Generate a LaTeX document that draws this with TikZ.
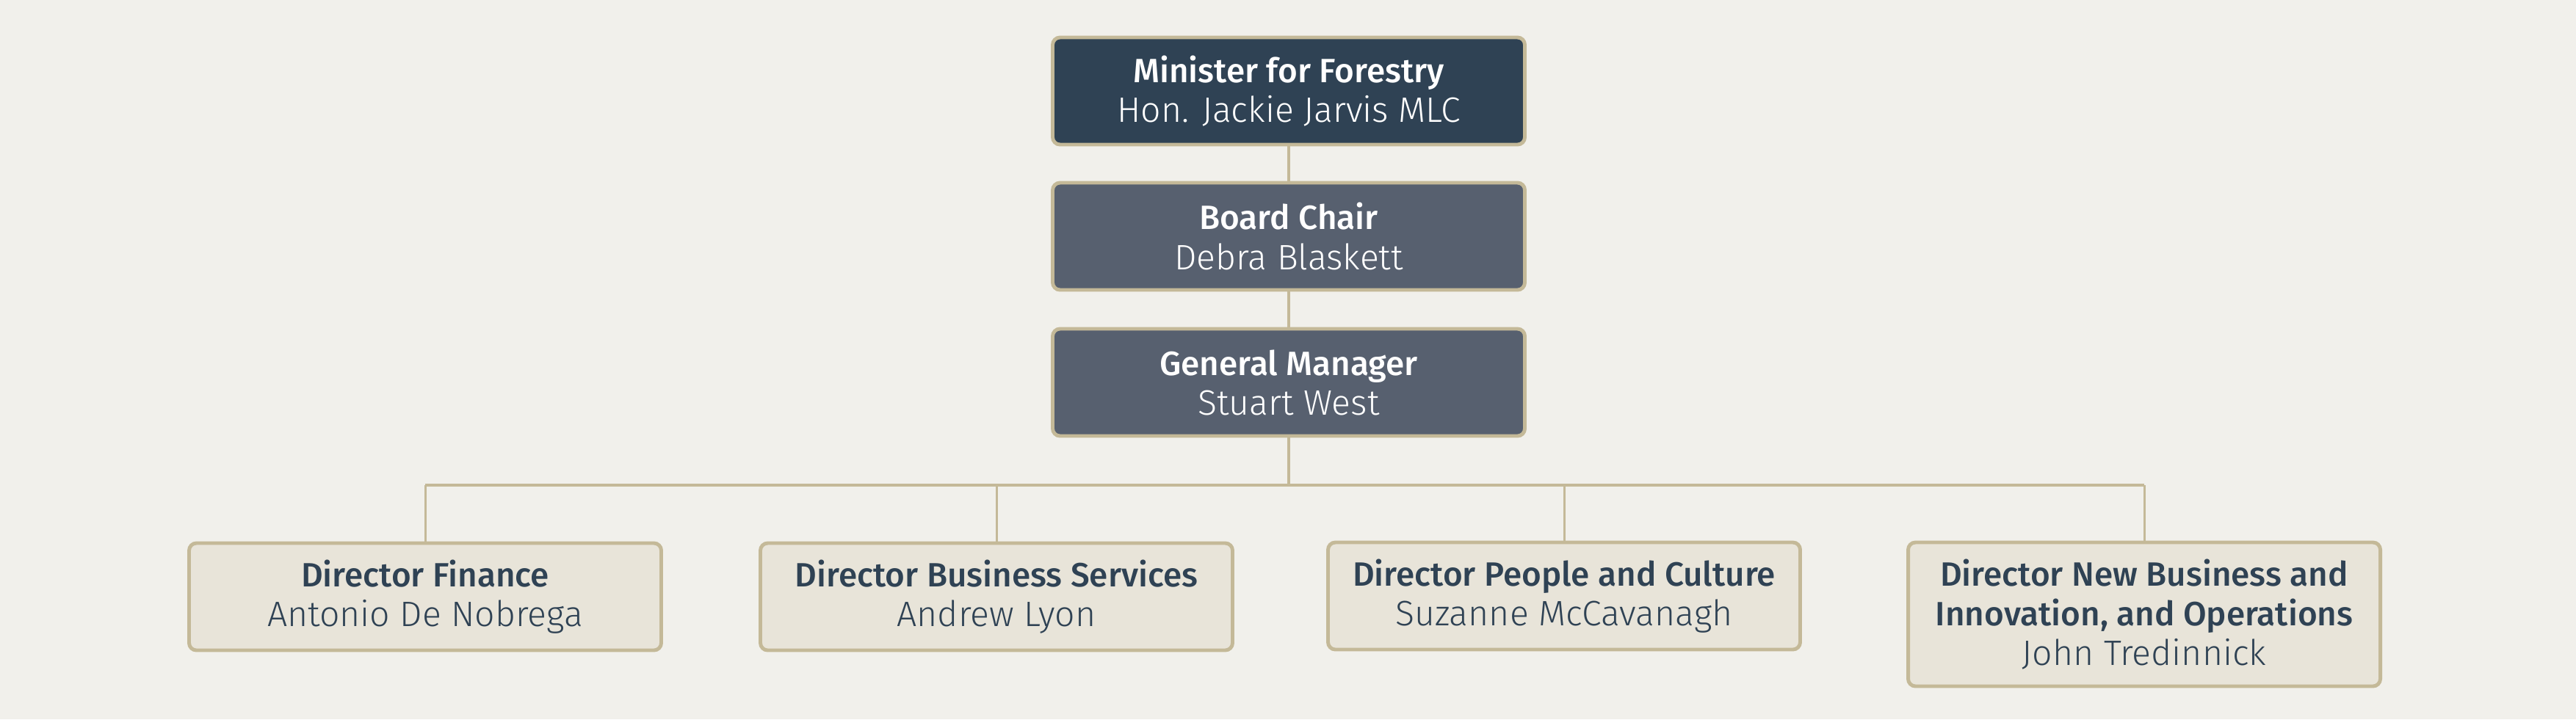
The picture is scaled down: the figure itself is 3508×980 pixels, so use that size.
\documentclass[tikz,border=0pt]{standalone}
\usepackage{fontspec}
\setmainfont{Fira Sans}
\newfontfamily\titlefont{Fira Sans Medium}[Scale=1.02]
\newfontfamily\namefont{Fira Sans Light}[Scale=1.07]
\usetikzlibrary{positioning}

\definecolor{paper}{HTML}{F1F0EB}
\definecolor{tan}{HTML}{C4B998}
\definecolor{navy}{HTML}{2F4254}
\definecolor{slate}{HTML}{57606F}
\definecolor{sand}{HTML}{E8E4D9}

\newcommand{\role}[2]{\titlefont #1\\\namefont #2}

\tikzset{
  box/.style={draw=tan, line width=1.4pt, rounded corners=0.1cm,
    minimum width=6.43cm, minimum height=1.46cm, align=center,
    font=\fontsize{12.8}{15.4}\selectfont},
  head/.style={box, fill=slate, text=white},
  dir/.style={box, fill=sand, text=navy},
  link/.style={draw=tan, line width=1.1pt},
  branch/.style={draw=tan, line width=0.85pt}
}

\begin{document}
\begin{tikzpicture}[x=0.1mm, y=-0.1mm]
    \fill [paper] (0,0) rectangle (3508,980);
    \useasboundingbox (0,0) rectangle (3508,980);

    % top of the chart
    \node [head, fill=navy] (min) at (1755,124) {\role{Minister for Forestry}{Hon. Jackie Jarvis MLC}};
    \node [head] (chair) at (1755,322) {\role{Board Chair}{Debra Blaskett}};
    \node [head] (gm) at (1755,521) {\role{General Manager}{Stuart West}};

    % directors
    \node [dir] (fin) at (579,813) {\role{Director Finance}{Antonio De Nobrega}};
    \node [dir] (bsv) at (1357,813) {\role{Director Business Services}{Andrew Lyon}};
    \node [dir] (ppl) at (2130,812) {\role{Director People and Culture}{Suzanne McCavanagh}};
    \node [dir, minimum height=1.96cm] (ops) at (2920,837)
        {\titlefont Director New Business and\\\titlefont Innovation, and Operations\\\namefont John Tredinnick};

    \coordinate (bus) at (1755,661);
    \coordinate (busw) at (fin.north |- bus);
    \coordinate (buse) at (ops.north |- bus);
    \draw [link] (min) -- (chair);
    \draw [link] (chair) -- (gm);
    \draw [link] (gm) -- (bus);
    \draw [link] (busw) -- (buse);
    \foreach \d in {fin, bsv, ppl, ops}
        \draw [branch] (\d.north) -- (\d.north |- bus);
\end{tikzpicture}
\end{document}
